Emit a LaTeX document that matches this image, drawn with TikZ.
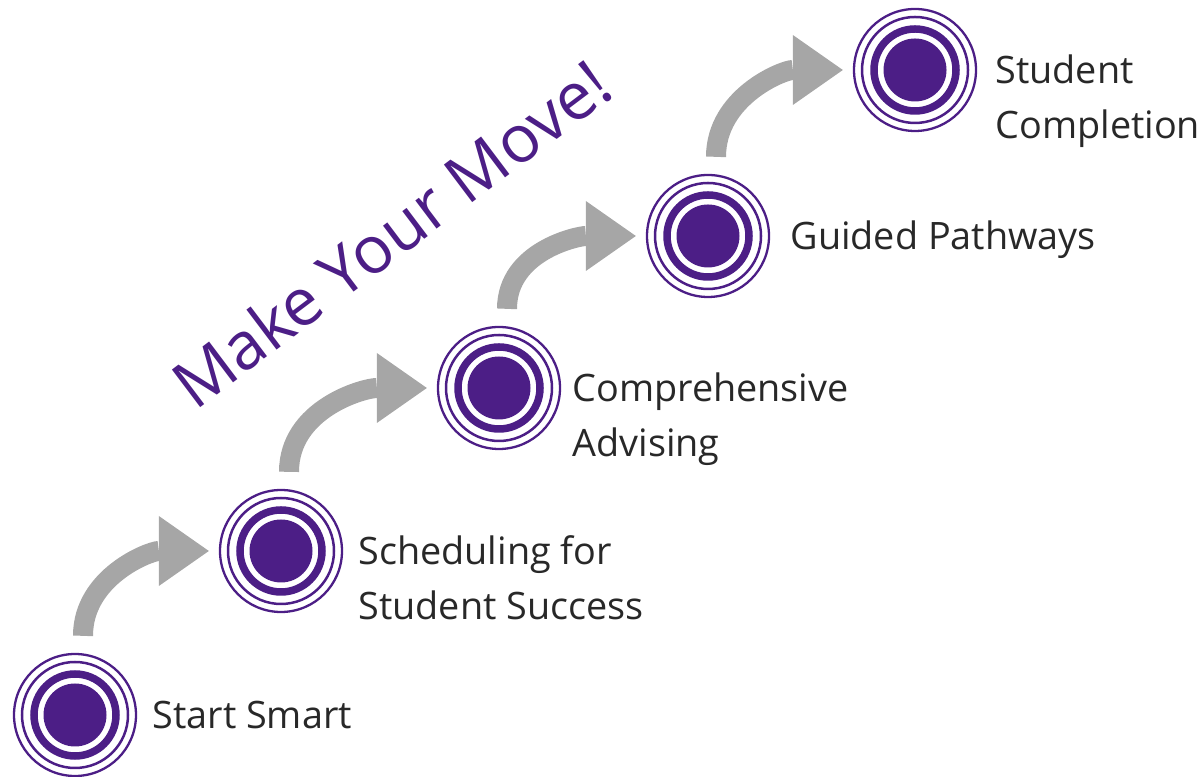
\documentclass[tikz,border=0pt]{standalone}
\usepackage{fontspec}
\setmainfont{Open Sans}
\usepackage{tikz}
\usetikzlibrary{positioning,calc,arrows.meta}

\definecolor{movepurple}{RGB}{76,30,134}
\definecolor{flowgray}{RGB}{166,166,166}
\definecolor{labelgray}{RGB}{40,40,40}

\tikzset{
  target/.style={circle, draw=movepurple, line width=0.046cm, minimum size=2.44cm, inner sep=0pt,
    path picture={
      \draw[movepurple, line width=0.05cm] (path picture bounding box.center) circle (1.06cm);
      \draw[movepurple, line width=0.15cm] (path picture bounding box.center) circle (0.82cm);
      \fill[movepurple] (path picture bounding box.center) circle (0.63cm);
    }},
  steplabel/.style={text=labelgray, align=left, inner sep=0pt, anchor=base west,
    font=\fontsize{21.5}{31}\selectfont},
  twolines/.style={steplabel, yshift=-31pt},
  flow/.style={draw=flowgray, line width=0.4cm,
    -{Triangle[width=1.4cm, length=1cm, line width=0pt]}},
}

\begin{document}
\begin{tikzpicture}[on grid]
      \useasboundingbox (0,0) rectangle (24.08,15.54);
      \node[target] (smart) at (1.5,1.24) {};
      \node[target, above right=3.28cm and 4.12cm of smart] (sched) {};
      \node[target, above right=3.26cm and 4.36cm of sched] (advise) {};
      \node[target, above right=3.04cm and 4.18cm of advise] (paths) {};
      \node[target, above right=3.32cm and 4.14cm of paths] (finish) {};
      \node[steplabel] (smartlbl) at ($(smart.east)+(0.3cm,-0.28cm)$) {Start Smart};
      \node[twolines] (schedlbl) at ($(sched.east)+(0.3cm,-0.28cm)$) {Scheduling for\\Student Success};
      \node[twolines] (adviselbl) at ($(advise.east)+(0.22cm,-0.28cm)$) {Comprehensive\\Advising};
      \node[steplabel] (pathslbl) at ($(paths.east)+(0.4cm,-0.28cm)$) {Guided Pathways};
      \node[twolines] (finishlbl) at ($(finish.east)+(0.36cm,-0.28cm)$) {Student\\Completion};
      \node[text=movepurple, font=\fontsize{37.5}{40}\selectfont, rotate=37, anchor=base west, inner sep=0pt] (motto) at (3.9,7.3) {Make Your Move!};
      \draw[flow] ($(smart.north)+(0.16,0.34)$) to[out=90, in=180] ($(sched.west)+(-0.2,0)$);
      \draw[flow] ($(sched.north)+(0.16,0.34)$) to[out=90, in=180] ($(advise.west)+(-0.2,0)$);
      \draw[flow] ($(advise.north)+(0.16,0.34)$) to[out=90, in=180] ($(paths.west)+(-0.2,0)$);
      \draw[flow] ($(paths.north)+(0.16,0.34)$) to[out=90, in=180] ($(finish.west)+(-0.2,0)$);
\end{tikzpicture}
\end{document}
